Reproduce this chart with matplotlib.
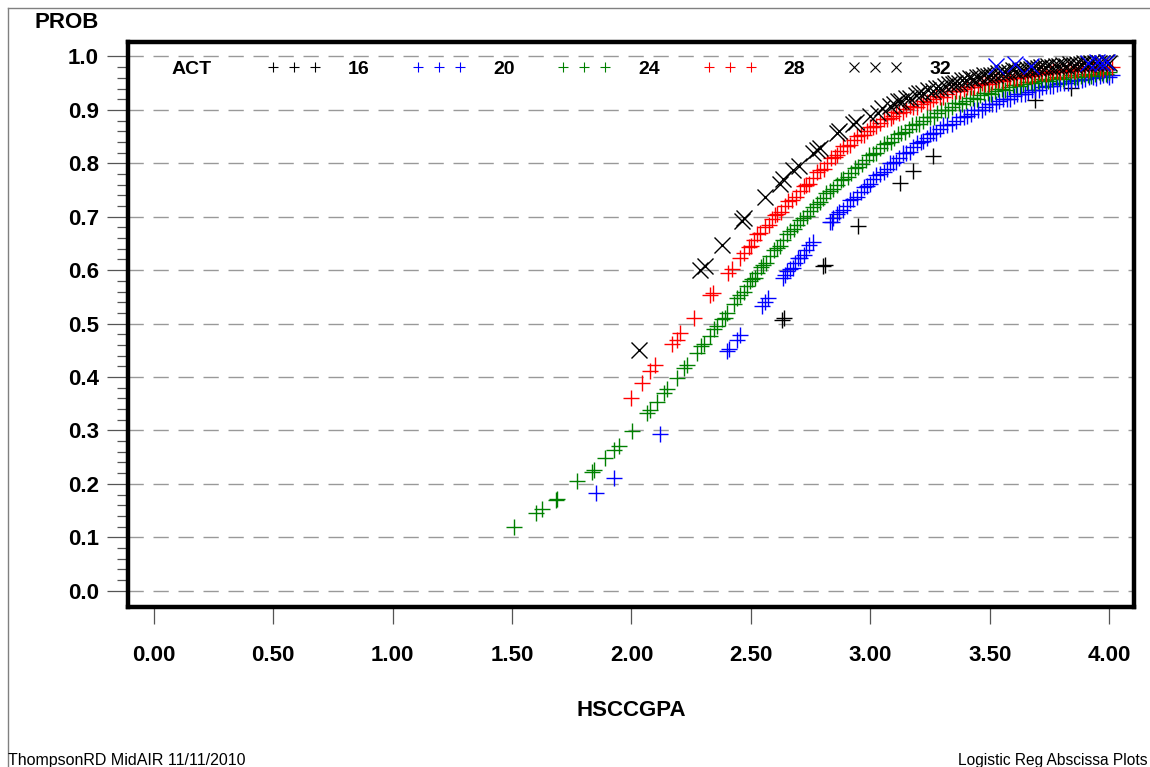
import matplotlib
matplotlib.use("Agg")
import matplotlib.pyplot as plt
from matplotlib.lines import Line2D

plt.rcParams["font.family"] = ["Liberation Sans", "DejaVu Sans"]

# predicted probability vs HSCCGPA, one series per ACT score
gpa_16 = [2.629, 2.640, 2.800, 2.810, 2.949, 3.123, 3.179, 3.262, 3.687, 3.840]
prob_16 = [0.507, 0.510, 0.607, 0.610, 0.682, 0.763, 0.785, 0.813, 0.919, 0.941]

gpa_20 = [1.850, 1.926, 2.118, 2.400, 2.410, 2.440, 2.455, 2.545, 2.560, 2.573,
          2.636, 2.643, 2.664, 2.685, 2.706, 2.730, 2.761, 2.830, 2.845, 2.870,
          2.900, 2.928, 2.960, 2.984, 3.012, 3.040, 3.070, 3.095, 3.120, 3.150,
          3.179, 3.210, 3.235, 3.262, 3.290, 3.320, 3.360, 3.390, 3.420, 3.450,
          3.480, 3.510, 3.540, 3.570, 3.600, 3.630, 3.660, 3.690, 3.720, 3.750,
          3.780, 3.810, 3.840, 3.870, 3.900, 3.930, 3.960, 3.990, 4.010,
          # second row of the dense band
          2.650, 2.675, 2.695, 2.720, 2.745, 2.840, 2.858, 2.885, 2.915, 2.945,
          2.972, 2.998, 3.025, 3.055, 3.083, 3.108, 3.135, 3.165, 3.195, 3.222,
          3.248, 3.275, 3.305, 3.340, 3.375, 3.405, 3.435, 3.465, 3.495, 3.525,
          3.555, 3.585, 3.615, 3.645, 3.675, 3.705, 3.735, 3.765, 3.795, 3.825,
          3.855, 3.885, 3.915, 3.945, 3.975, 4.000]
prob_20 = [0.183, 0.211, 0.294, 0.448, 0.452, 0.470, 0.479, 0.532, 0.540, 0.548,
           0.586, 0.590, 0.602, 0.613, 0.623, 0.637, 0.653, 0.690, 0.698, 0.708,
           0.721, 0.733, 0.746, 0.757, 0.770, 0.780, 0.790, 0.801, 0.810, 0.820,
           0.830, 0.839, 0.847, 0.856, 0.864, 0.871, 0.880, 0.887, 0.893, 0.899,
           0.905, 0.911, 0.916, 0.921, 0.926, 0.930, 0.934, 0.938, 0.942, 0.945,
           0.948, 0.951, 0.954, 0.956, 0.958, 0.961, 0.963, 0.965, 0.966,
           0.598, 0.604, 0.622, 0.628, 0.648, 0.690, 0.706, 0.712, 0.731, 0.737,
           0.756, 0.762, 0.779, 0.783, 0.800, 0.803, 0.819, 0.822, 0.838, 0.841,
           0.855, 0.857, 0.871, 0.873, 0.886, 0.888, 0.899, 0.900, 0.911, 0.911,
           0.921, 0.921, 0.930, 0.929, 0.938, 0.937, 0.945, 0.944, 0.951, 0.950,
           0.956, 0.955, 0.961, 0.960, 0.965, 0.962]

gpa_24 = [1.509, 1.599, 1.627, 1.683, 1.690, 1.773, 1.836, 1.845, 1.891, 1.926,
          1.947, 2.003, 2.065, 2.079, 2.107, 2.135, 2.150, 2.191, 2.219, 2.233,
          2.274, 2.302, 2.330, 2.358, 2.379, 2.400, 2.427, 2.455, 2.483, 2.504,
          2.525, 2.552, 2.580, 2.608, 2.636, 2.664, 2.692, 2.719, 2.747, 2.775,
          2.803, 2.831, 2.859, 2.887, 2.920, 2.950, 2.980, 3.010, 3.040, 3.070,
          3.100, 3.130, 3.160, 3.190, 3.220, 3.250, 3.280, 3.310, 3.340, 3.370,
          3.400, 3.430, 3.460, 3.490, 3.520, 3.550, 3.580, 3.610, 3.640, 3.670,
          3.700, 3.730, 3.760, 3.790, 3.820, 3.850, 3.880, 3.910, 3.940, 3.970,
          4.000,
          # second row of the dense band
          2.290, 2.345, 2.390, 2.440, 2.470, 2.495, 2.515, 2.540, 2.565, 2.595,
          2.620, 2.650, 2.680, 2.705, 2.735, 2.760, 2.790, 2.815, 2.845, 2.875,
          2.905, 2.935, 2.965, 2.995, 3.025, 3.055, 3.085, 3.115, 3.145, 3.175,
          3.205, 3.235, 3.265, 3.295, 3.325, 3.355, 3.385, 3.415, 3.445, 3.475,
          3.505, 3.535, 3.565, 3.595, 3.625, 3.655, 3.685, 3.715, 3.745, 3.775,
          3.805, 3.835, 3.865, 3.895, 3.925, 3.955, 3.985]
prob_24 = [0.120, 0.146, 0.152, 0.170, 0.172, 0.205, 0.223, 0.226, 0.248, 0.264,
           0.270, 0.298, 0.333, 0.339, 0.354, 0.370, 0.378, 0.398, 0.417, 0.423,
           0.445, 0.461, 0.476, 0.495, 0.508, 0.520, 0.536, 0.554, 0.570, 0.583,
           0.595, 0.610, 0.626, 0.642, 0.657, 0.673, 0.685, 0.698, 0.710, 0.723,
           0.735, 0.748, 0.760, 0.770, 0.782, 0.794, 0.806, 0.818, 0.828, 0.838,
           0.848, 0.857, 0.865, 0.873, 0.880, 0.887, 0.894, 0.900, 0.906, 0.912,
           0.917, 0.922, 0.927, 0.931, 0.935, 0.939, 0.942, 0.946, 0.949, 0.952,
           0.954, 0.956, 0.958, 0.960, 0.961, 0.962, 0.964, 0.966, 0.968, 0.969,
           0.970,
           0.458, 0.490, 0.511, 0.548, 0.559, 0.580, 0.586, 0.606, 0.614, 0.637,
           0.645, 0.668, 0.677, 0.694, 0.702, 0.719, 0.727, 0.744, 0.752, 0.768,
           0.774, 0.792, 0.798, 0.815, 0.820, 0.836, 0.840, 0.855, 0.858, 0.872,
           0.873, 0.886, 0.887, 0.900, 0.900, 0.912, 0.911, 0.922, 0.921, 0.932,
           0.930, 0.940, 0.937, 0.947, 0.944, 0.953, 0.950, 0.958, 0.954, 0.962,
           0.958, 0.965, 0.961, 0.968, 0.964, 0.971, 0.967]

gpa_28 = [1.996, 2.045, 2.079, 2.100, 2.170, 2.190, 2.205, 2.260, 2.330, 2.340,
          2.406, 2.420, 2.455, 2.470, 2.490, 2.511, 2.539, 2.560, 2.587, 2.610,
          2.643, 2.670, 2.706, 2.730, 2.760, 2.789, 2.820, 2.850, 2.873, 2.900,
          2.930, 2.960, 2.984, 3.010, 3.040, 3.070, 3.095, 3.120, 3.150, 3.180,
          3.210, 3.235, 3.260, 3.290, 3.320, 3.360, 3.390, 3.420, 3.450, 3.480,
          3.510, 3.540, 3.570, 3.600, 3.630, 3.660, 3.690, 3.720, 3.750, 3.780,
          3.810, 3.840, 3.870, 3.900, 3.930, 3.960, 3.990, 4.010,
          # second row of the dense band
          2.500, 2.525, 2.575, 2.600, 2.625, 2.655, 2.690, 2.720, 2.745, 2.775,
          2.805, 2.835, 2.862, 2.887, 2.915, 2.945, 2.972, 2.997, 3.025, 3.055,
          3.085, 3.108, 3.135, 3.165, 3.195, 3.222, 3.248, 3.275, 3.305, 3.340,
          3.375, 3.405, 3.435, 3.465, 3.495, 3.525, 3.555, 3.585, 3.615, 3.645,
          3.675, 3.705, 3.735, 3.765, 3.795, 3.825, 3.855, 3.885, 3.915, 3.945,
          3.975]
prob_28 = [0.361, 0.389, 0.411, 0.423, 0.461, 0.470, 0.483, 0.511, 0.554, 0.558,
           0.595, 0.603, 0.623, 0.632, 0.643, 0.657, 0.670, 0.681, 0.695, 0.706,
           0.720, 0.732, 0.748, 0.760, 0.772, 0.788, 0.800, 0.812, 0.823, 0.833,
           0.843, 0.853, 0.861, 0.868, 0.876, 0.883, 0.889, 0.895, 0.901, 0.906,
           0.911, 0.915, 0.920, 0.925, 0.930, 0.935, 0.939, 0.943, 0.946, 0.949,
           0.952, 0.955, 0.958, 0.960, 0.962, 0.965, 0.967, 0.969, 0.970, 0.972,
           0.973, 0.975, 0.976, 0.977, 0.978, 0.979, 0.980, 0.981,
           0.645, 0.668, 0.684, 0.704, 0.709, 0.730, 0.736, 0.758, 0.762, 0.784,
           0.790, 0.810, 0.815, 0.832, 0.835, 0.852, 0.853, 0.868, 0.870, 0.883,
           0.884, 0.896, 0.896, 0.907, 0.906, 0.916, 0.915, 0.926, 0.925, 0.935,
           0.935, 0.943, 0.942, 0.950, 0.948, 0.956, 0.954, 0.961, 0.959, 0.966,
           0.964, 0.970, 0.968, 0.973, 0.970, 0.976, 0.973, 0.978, 0.975, 0.980,
           0.977]

gpa_32 = [2.031, 2.288, 2.309, 2.379, 2.462, 2.470, 2.559, 2.620, 2.636, 2.678,
          2.700, 2.761, 2.775, 2.789, 2.859, 2.870, 2.928, 2.940, 2.998, 3.030,
          3.081, 3.100, 3.130, 3.165, 3.190, 3.220, 3.262, 3.290, 3.310, 3.346,
          3.370, 3.400, 3.430, 3.460, 3.490, 3.520, 3.550, 3.580, 3.610, 3.640,
          3.670, 3.700, 3.730, 3.760, 3.790, 3.820, 3.850, 3.880, 3.910, 3.940,
          3.970, 4.000,
          # second row of the dense band
          3.050, 3.115, 3.150, 3.205, 3.240, 3.275, 3.330, 3.355, 3.385, 3.415,
          3.445, 3.475, 3.505, 3.535, 3.565, 3.595, 3.625, 3.655, 3.685, 3.715,
          3.745, 3.775, 3.805, 3.835, 3.865, 3.895, 3.925, 3.955, 3.985]
prob_32 = [0.451, 0.601, 0.608, 0.648, 0.692, 0.697, 0.736, 0.762, 0.770, 0.788,
           0.795, 0.820, 0.824, 0.828, 0.857, 0.861, 0.873, 0.878, 0.888, 0.895,
           0.907, 0.911, 0.917, 0.923, 0.927, 0.931, 0.936, 0.941, 0.944, 0.948,
           0.951, 0.955, 0.958, 0.961, 0.964, 0.966, 0.969, 0.971, 0.973, 0.975,
           0.977, 0.978, 0.980, 0.981, 0.982, 0.983, 0.984, 0.985, 0.986, 0.987,
           0.988, 0.988,
           0.903, 0.917, 0.923, 0.931, 0.937, 0.941, 0.949, 0.951, 0.956, 0.959,
           0.961, 0.965, 0.966, 0.969, 0.971, 0.974, 0.975, 0.977, 0.979, 0.980,
           0.982, 0.983, 0.984, 0.985, 0.986, 0.987, 0.987, 0.988, 0.989]

# the blue "x" symbols near the top right (symbol cycle wraps round)
gpa_top = [3.527, 3.603, 3.670, 3.909, 3.950, 3.970, 3.990]
prob_top = [0.982, 0.985, 0.983, 0.988, 0.989, 0.988, 0.989]

act_labels = ["16", "20", "24", "28", "32"]
act_colors = ["black", "blue", "green", "red", "black"]
act_markers = ["+", "+", "+", "+", "x"]

y_ticks = [0.0, 0.1, 0.2, 0.3, 0.4, 0.5, 0.6, 0.7, 0.8, 0.9, 1.0]
x_ticks = [0.0, 0.5, 1.0, 1.5, 2.0, 2.5, 3.0, 3.5, 4.0]

W, H = 1150, 767
fig = plt.figure(figsize=(W / 100, H / 100), dpi=100)
ax = fig.add_axes([128 / W, 1 - 606.5 / H, 1006 / W, 565 / H])

series = [(gpa_16, prob_16), (gpa_20, prob_20), (gpa_24, prob_24),
          (gpa_28, prob_28), (gpa_32, prob_32)]
for (xs, ys), col, mk in zip(series, act_colors, act_markers):
    ax.plot(xs, ys, linestyle="none", marker=mk, color=col,
            markersize=12 if mk == "+" else 11, markeredgewidth=1.0, zorder=3)
ax.plot(gpa_top, prob_top, linestyle="none", marker="x", color="blue",
        markersize=11, markeredgewidth=1.0, zorder=4)

ax.set_xlim(-0.107, 4.103)
ax.set_ylim(-0.0296, 1.028)
ax.set_yticks(y_ticks)
ax.set_yticklabels([f"{v:.1f}" for v in y_ticks])
ax.set_yticks([i / 50 for i in range(51)], minor=True)
ax.set_xticks(x_ticks)
ax.set_xticklabels([f"{v:.2f}" for v in x_ticks])

for y in y_ticks:
    ax.axhline(y, color="#999999", linewidth=1.0, dashes=(11, 7), zorder=1)

for s in ax.spines.values():
    s.set_linewidth(3.2)
    s.set_color("black")
ax.tick_params(axis="y", which="major", direction="out", length=15, width=0.9,
               color="#555555", pad=6, labelsize=16)
ax.tick_params(axis="y", which="minor", direction="out", length=8, width=0.9,
               color="#555555")
ax.tick_params(axis="x", which="major", direction="out", length=12, width=0.9,
               color="#555555", pad=16, labelsize=16)
for lab in ax.get_xticklabels() + ax.get_yticklabels():
    lab.set_fontweight("bold")

ax.set_xlabel("HSCCGPA", fontsize=16, fontweight="bold", labelpad=24)
fig.text(35 / W, 1 - 22 / H, "PROB", fontsize=16, fontweight="bold", va="center")

# legend row inside the frame
fig.text(172 / W, 1 - 70 / H, "ACT", fontsize=14, fontweight="bold", va="center")
handles = [Line2D([], [], linestyle="none", marker=m, color=c, markersize=7,
                  markeredgewidth=0.8) for c, m in zip(act_colors, act_markers)]
leg = fig.legend(handles, act_labels, loc="center left",
                 bbox_to_anchor=(267 / W, 1 - 69 / H), ncol=5, numpoints=3,
                 frameon=False, borderpad=0, borderaxespad=0,
                 handlelength=2.76, handletextpad=1.4, columnspacing=2.2,
                 prop={"size": 14, "weight": "bold"})

# outer page border and footnotes
fig.add_artist(Line2D([8 / W, 1], [1 - 8 / H, 1 - 8 / H], color="#808080", linewidth=1))
fig.add_artist(Line2D([8 / W, 8 / W], [0, 1 - 8 / H], color="#808080", linewidth=1))
fig.text(8 / W, 1 - 760 / H, "ThompsonRD MidAIR 11/11/2010", fontsize=11.5, va="center")
fig.text(1147 / W, 1 - 760 / H, "Logistic Reg Abscissa Plots", fontsize=11.2,
         va="center", ha="right")

fig.savefig("out.png", dpi=100, facecolor="white")
